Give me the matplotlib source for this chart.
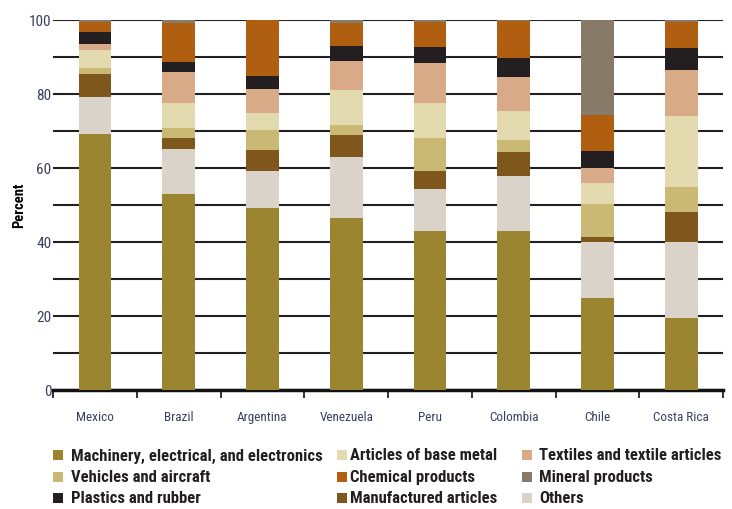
import numpy as np
import matplotlib.pyplot as plt
from matplotlib.patches import Rectangle
import logging

logging.getLogger('matplotlib.font_manager').setLevel(logging.ERROR)
plt.rcParams['font.family'] = ['Roboto Condensed', 'Liberation Sans Narrow', 'Lato', 'DejaVu Sans']

# Paises y series (porcentaje de exportaciones)
countries = ["Mexico", "Brazil", "Argentina", "Venezuela", "Peru", "Colombia", "Chile", "Costa Rica"]

machinery = [69.2, 52.9, 49.0, 46.4, 42.8, 42.8, 24.8, 19.3]
others = [9.9, 12.1, 10.0, 16.4, 11.4, 15.0, 15.0, 20.7]
manufactured = [6.3, 2.9, 5.8, 6.1, 5.0, 6.4, 1.4, 8.1]
vehicles = [1.6, 2.7, 5.4, 2.7, 8.7, 3.3, 9.0, 6.8]
base_metal = [4.7, 6.8, 4.5, 9.5, 9.5, 7.9, 5.7, 19.2]
textiles = [1.8, 8.5, 6.6, 7.8, 10.9, 9.0, 4.0, 12.4]
plastics = [3.2, 2.7, 3.4, 3.9, 4.2, 5.2, 4.5, 5.8]
chemical = [2.8, 10.5, 15.3, 6.3, 6.8, 10.0, 9.9, 7.2]
mineral = [0.5, 0.9, 0.0, 0.9, 0.7, 0.4, 25.7, 0.5]

series = [
    ("Machinery, electrical, and electronics", machinery, "#9B8530"),
    ("Others", others, "#D9D3CA"),
    ("Manufactured articles", manufactured, "#7F561C"),
    ("Vehicles and aircraft", vehicles, "#C9B974"),
    ("Articles of base metal", base_metal, "#E3DAAF"),
    ("Textiles and textile articles", textiles, "#D9AA88"),
    ("Plastics and rubber", plastics, "#231F20"),
    ("Chemical products", chemical, "#B05E10"),
    ("Mineral products", mineral, "#877A69"),
]

fig = plt.figure(figsize=(7.32, 5.10), dpi=100)
ax = fig.add_axes([0.0724, 0.234, 0.9156, 0.7254])
renderer = fig.canvas.get_renderer()


def ajustar(txt, ancho_px):
    # escala el tamano de letra para que el texto ocupe ancho_px
    w = txt.get_window_extent(renderer).width
    txt.set_fontsize(txt.get_fontsize() * ancho_px / w)


x = np.arange(len(countries))
bottom = np.zeros(len(countries))
colores = {}
for nombre, vals, col in series:
    vals = np.array(vals)
    ax.bar(x, vals, bottom=bottom, width=0.39, color=col, zorder=3, linewidth=0)
    bottom += vals
    colores[nombre] = col

ax.set_xlim(-0.5, len(countries) - 0.5)
ax.set_ylim(0, 100)
ax.set_yticks(np.arange(0, 101, 20))
ax.set_yticks(np.arange(10, 100, 20), minor=True)
ax.grid(axis="y", which="both", color="#231F20", linewidth=1.5, zorder=0)
ax.set_axisbelow(True)

for s in ["left", "right", "top"]:
    ax.spines[s].set_visible(False)
ax.spines["bottom"].set_linewidth(2.5)
ax.spines["bottom"].set_color("#111111")

ax.set_xticks(x)
ax.set_xticklabels(countries)
ax.set_xticks(np.arange(-0.5, len(countries)), minor=True)
ax.tick_params(axis="x", which="major", length=0, pad=15, labelsize=9.5, labelcolor="#3a4060")
ax.tick_params(axis="x", which="minor", length=6, width=1.2, direction="out", color="#111111")
ax.tick_params(axis="y", which="both", length=0, pad=1, labelsize=11, labelcolor="#3a4060")
ax.set_ylabel("Percent", fontsize=10.5, fontweight="bold", labelpad=2)

# Leyenda en 3 columnas, colocada a mano
filas = [
    ["Machinery, electrical, and electronics", "Articles of base metal", "Textiles and textile articles"],
    ["Vehicles and aircraft", "Chemical products", "Mineral products"],
    ["Plastics and rubber", "Manufactured articles", "Others"],
]
col_x = [53, 337, 522]
texto_x = [71, 350, 539]
fila_y = [456, 478, 499]
textos = []
for i, fila in enumerate(filas):
    for j, nombre in enumerate(fila):
        cy = 1 - fila_y[i] / 510
        fig.patches.append(Rectangle((col_x[j] / 732, cy - 5 / 510), 10 / 732, 10 / 510,
                                     transform=fig.transFigure, facecolor=colores[nombre],
                                     edgecolor="none"))
        t = fig.text(texto_x[j] / 732, cy, nombre, ha="left", va="center",
                     fontsize=12, fontweight="bold", color="#231F20")
        textos.append(t)

# mismo tamano para todos, ajustado al texto mas largo
ajustar(textos[0], 252)
for t in textos[1:]:
    t.set_fontsize(textos[0].get_fontsize())

fig.savefig("out.png", dpi=100)
